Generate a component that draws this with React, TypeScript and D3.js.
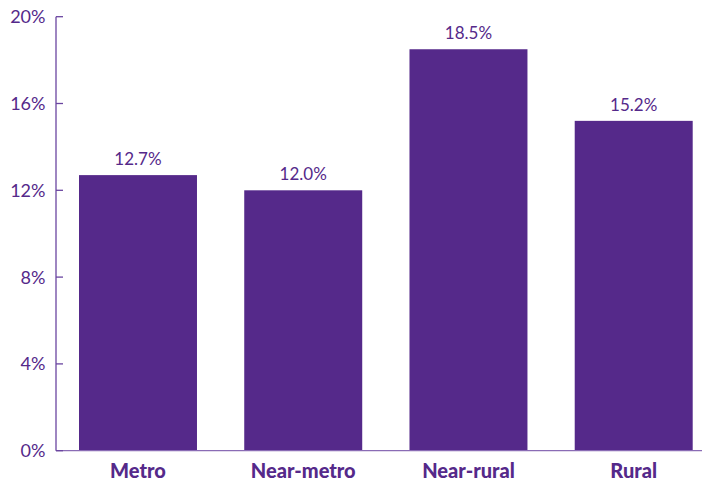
import React from "react";
import * as d3 from "d3";

const categories = ["Metro", "Near-metro", "Near-rural", "Rural"];
const values = [12.7, 12.0, 18.5, 15.2];
const yTicks = [0, 4, 8, 12, 16, 20];

const W = 702;
const H = 482;
const PURPLE = "#55298a";
const AXIS = "#6a45a0";
const FONT = "'Lato', 'Open Sans', sans-serif";

export default function App() {
  const y = d3.scaleLinear().domain([0, 20]).range([450.7, 16.7]);
  const x = d3.scaleBand<string>().domain(categories).range([79, 692.7]).paddingInner(0.286).paddingOuter(0);
  const axisX = 56;
  return (
    <svg width={W} height={H} style={{ position: "absolute", left: 0, top: 0 }}>
      <rect width={W} height={H} fill="#fff" />
      {categories.map((c, i) => (
        <rect key={c} x={x(c)} y={y(values[i])} width={x.bandwidth()} height={y(0) - y(values[i])} fill={PURPLE} />
      ))}
      {categories.map((c, i) => (
        <text key={"v" + c} x={(x(c) as number) + x.bandwidth() / 2} y={y(values[i]) - 10} textAnchor="middle"
          fontFamily={FONT} fontSize={17} fill={PURPLE}>
          {values[i].toFixed(1)}%
        </text>
      ))}
      {categories.map((c) => (
        <text key={"c" + c} x={(x(c) as number) + x.bandwidth() / 2} y={477.5} textAnchor="middle"
          fontFamily={FONT} fontSize={20} fontWeight={900} fill={PURPLE}>
          {c}
        </text>
      ))}
      <line x1={axisX} x2={axisX} y1={y(20)} y2={y(0)} stroke={AXIS} strokeWidth={1.3} />
      <line x1={axisX} x2={W} y1={y(0)} y2={y(0)} stroke={"#8a6cb5"} strokeWidth={1.3} />
      {yTicks.map((t) => (
        <g key={t}>
          <line x1={axisX} x2={axisX + 7} y1={y(t)} y2={y(t)} stroke={AXIS} strokeWidth={1.3} />
          <text x={45.5} y={y(t) + 6.5} textAnchor="end" fontFamily={FONT} fontSize={18} fill={PURPLE}>
            {t}%
          </text>
        </g>
      ))}
    </svg>
  );
}
